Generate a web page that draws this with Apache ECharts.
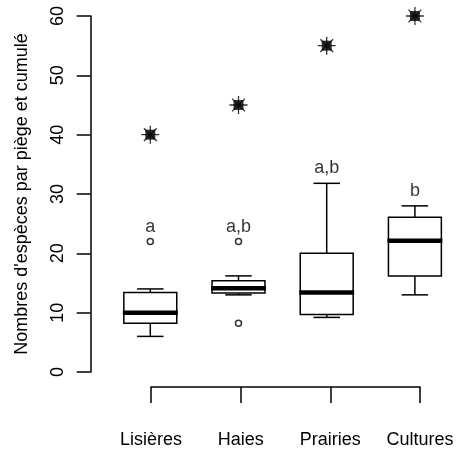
<!DOCTYPE html>
<html>
<head>
<meta charset="utf-8">
<script src="https://cdn.jsdelivr.net/npm/echarts@6/dist/echarts.min.js"></script>
<style>
  html, body { margin: 0; padding: 0; background: #fff; }
  #chart { width: 459px; height: 450px; }
</style>
</head>
<body>
<div id="chart"></div>
<script>
// Habitats
const categories = ['Lisières', 'Haies', 'Prairies', 'Cultures'];
// Box statistics: lower whisker, Q1, median, Q3, upper whisker
const whiskerLow = [6, 13, 9.2, 13];
const q1 = [8.2, 13.3, 9.7, 16.2];
const median = [10, 14.1, 13.4, 22.1];
const q3 = [13.4, 15.4, 20, 26.1];
const whiskerHigh = [14, 16.2, 31.8, 28];
// Outlying traps [habitat index, value]
const outliers = [[0, 22], [1, 22], [1, 8.2]];
// Cumulated species richness per habitat
const cumulated = [40, 45, 55, 60];
// Significance groups and their heights
const groupLetters = ['a', 'a,b', 'a,b', 'b'];
const letterY = [24.5, 24.5, 34.3, 30.5];
// Y ticks
const yMin = 0, yMax = 60, yStep = 10;

const FONT = 'Liberation Sans, Arial, Helvetica, sans-serif';
const boxData = categories.map((c, i) => [i, whiskerLow[i], q1[i], median[i], q3[i], whiskerHigh[i]]);

function renderBox(params, api) {
  const i = api.value(0);
  const band = api.size([1, 0])[0];
  const half = band * 0.3;
  const cap = band * 0.15;
  const pLow = api.coord([i, api.value(1)]);
  const pQ1 = api.coord([i, api.value(2)]);
  const pMed = api.coord([i, api.value(3)]);
  const pQ3 = api.coord([i, api.value(4)]);
  const pHigh = api.coord([i, api.value(5)]);
  const x = pMed[0];
  const thin = { stroke: '#000', lineWidth: 1.5, fill: null };
  return {
    type: 'group',
    children: [
      { type: 'line', shape: { x1: x, y1: pQ3[1], x2: x, y2: pHigh[1] }, style: thin },
      { type: 'line', shape: { x1: x, y1: pQ1[1], x2: x, y2: pLow[1] }, style: thin },
      { type: 'line', shape: { x1: x - cap, y1: pHigh[1], x2: x + cap, y2: pHigh[1] }, style: thin },
      { type: 'line', shape: { x1: x - cap, y1: pLow[1], x2: x + cap, y2: pLow[1] }, style: thin },
      { type: 'rect', shape: { x: x - half, y: pQ3[1], width: 2 * half, height: pQ1[1] - pQ3[1] },
        style: { stroke: '#000', lineWidth: 1.5, fill: '#fff' } },
      { type: 'line', shape: { x1: x - half - 1, y1: pMed[1], x2: x + half + 1, y2: pMed[1] },
        style: { stroke: '#000', lineWidth: 4.5 } }
    ]
  };
}

const chart = echarts.init(document.getElementById('chart'), null, { renderer: 'canvas' });
chart.setOption({
  animation: false,
  backgroundColor: '#fff',
  textStyle: { fontFamily: FONT, color: '#000' },
  grid: [
    { left: 106.2, top: 16, width: 358.7, height: 356 },
    { left: 151, top: 386, width: 269, height: 1 }
  ],
  xAxis: [
    { type: 'category', gridIndex: 0, data: categories, boundaryGap: true, show: false },
    {
      type: 'category', gridIndex: 1, data: categories, boundaryGap: false, position: 'bottom',
      axisLine: { show: true, lineStyle: { color: '#000', width: 1.5 } },
      axisTick: { show: true, inside: false, length: 16, alignWithLabel: true, lineStyle: { color: '#000', width: 1.5 } },
      axisLabel: { show: true, margin: 44, fontSize: 18, color: '#000', fontFamily: FONT, interval: 0 },
      splitLine: { show: false }
    }
  ],
  yAxis: [
    {
      type: 'value', gridIndex: 0, min: yMin, max: yMax, interval: yStep, offset: 15.5,
      name: "Nombres d'espèces par piège et cumulé", nameLocation: 'middle', nameGap: 60, nameRotate: 90,
      nameTextStyle: { fontSize: 18, color: '#000', fontFamily: FONT },
      axisLine: { show: true, lineStyle: { color: '#000', width: 1.5 } },
      axisTick: { show: true, inside: false, length: 14, lineStyle: { color: '#000', width: 1.5 } },
      axisLabel: { show: true, rotate: 90, margin: 24, fontSize: 18, color: '#000', fontFamily: FONT },
      splitLine: { show: false }
    },
    { type: 'value', gridIndex: 1, show: false, min: 0, max: 1 }
  ],
  series: [
    {
      type: 'custom', xAxisIndex: 0, yAxisIndex: 0, data: boxData,
      encode: { x: 0, y: [1, 2, 3, 4, 5] }, renderItem: renderBox, clip: false, silent: true
    },
    {
      type: 'scatter', xAxisIndex: 0, yAxisIndex: 0, data: outliers,
      symbol: 'circle', symbolSize: 6,
      itemStyle: { color: '#fff', borderColor: '#000', borderWidth: 1.5 }, silent: true
    },
    {
      type: 'scatter', xAxisIndex: 0, yAxisIndex: 0,
      data: cumulated.map((v, i) => [i, v]),
      symbol: 'rect', symbolSize: 10, itemStyle: { color: '#000' }, silent: true
    },
    {
      type: 'scatter', xAxisIndex: 0, yAxisIndex: 0,
      data: cumulated.map((v, i) => [i, v]),
      symbol: 'path://M8,0L8,16M0,8L16,8M2.3,2.3L13.7,13.7M13.7,2.3L2.3,13.7',
      symbolSize: 18,
      itemStyle: { color: 'rgba(0,0,0,0)', borderColor: '#000', borderWidth: 1.3 }, silent: true
    },
    {
      type: 'scatter', xAxisIndex: 0, yAxisIndex: 0,
      data: groupLetters.map((t, i) => ({ value: [i, letterY[i]], name: t })),
      symbolSize: 1, itemStyle: { color: 'rgba(0,0,0,0)' },
      label: { show: true, position: 'inside', formatter: p => p.name, fontSize: 18, color: '#000', fontFamily: FONT },
      silent: true
    }
  ]
});
</script>
</body>
</html>
